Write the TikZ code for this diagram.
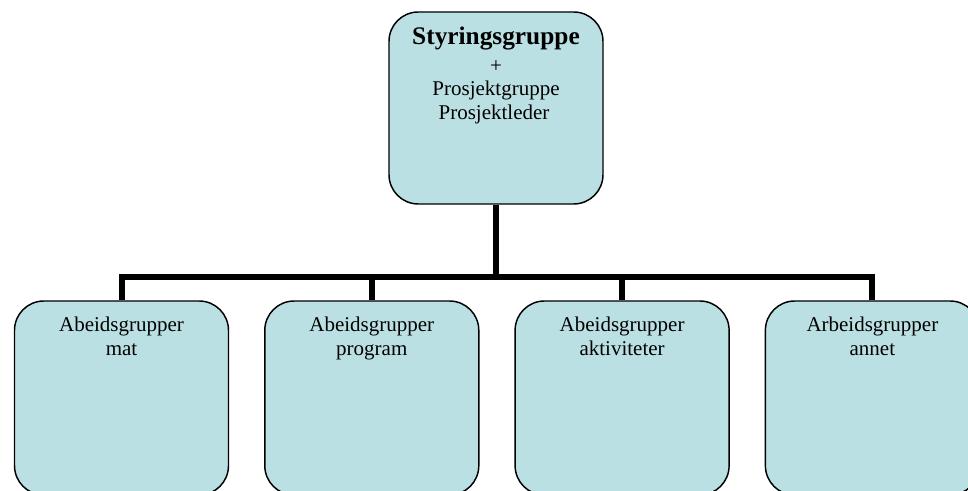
\documentclass[tikz,border=0pt]{standalone}
\usepackage{fontspec}
\setmainfont{Liberation Serif}
\definecolor{boxfill}{HTML}{BBE0E3}
\begin{document}
\begin{tikzpicture}[x=0.75pt,y=-0.75pt,
 group/.style={draw,line width=1.1pt,fill=boxfill,rounded corners=22pt,minimum width=160.5pt,minimum height=145.5pt,inner sep=0pt},
 boxtext/.style={anchor=north,align=center,inner sep=0pt,font=\fontsize{15.75}{18}\selectfont},
 conn/.style={line width=4.5pt}]
\clip (0,0) rectangle (968,491);
\node[group,minimum height=144pt] (lead) at (496,108) {};
\node[boxtext] (leadtext) at (496,27) {{\bfseries\fontsize{19}{18}\selectfont Styringsgruppe}\\[2.5pt]+\\[-0.5pt]Prosjektgruppe\hspace*{8pt}\\Prosjektleder\hspace*{3pt}};
\node[group] (mat) at (121.5,398) {};
\node[group] (program) at (371.8,398) {};
\node[group] (aktiviteter) at (622.1,398) {};
\node[group] (annet) at (872.4,398) {};
\node[boxtext] (mattext) at (121.5,316.5) {Abeidsgrupper\\mat};
\node[boxtext] (programtext) at (371.8,316.5) {Abeidsgrupper\\program};
\node[boxtext] (aktivitetertext) at (622.1,316.5) {Abeidsgrupper\\aktiviteter};
\node[boxtext] (annettext) at (872.4,316.5) {Arbeidsgrupper\\annet};
\coordinate (bar) at (496,277);
\draw[conn] (lead.south)--(bar);
\draw[conn] (mat.north)|-(bar)-|(annet.north);
\draw[conn] (program.north)--(program.north|-bar);
\draw[conn] (aktiviteter.north)--(aktiviteter.north|-bar);
\end{tikzpicture}
\end{document}
